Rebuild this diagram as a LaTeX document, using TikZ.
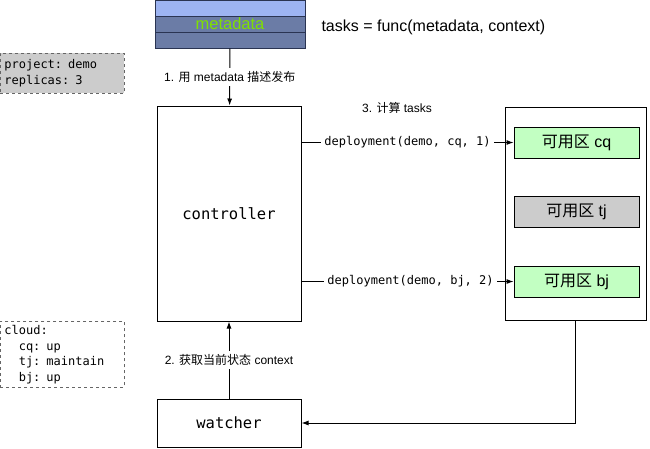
\documentclass[tikz,border=0pt]{standalone}
\usepackage{fontspec}
\setmainfont{Liberation Sans}
\setmonofont{DejaVu Sans Mono}
\newfontfamily\cjk{Noto Sans CJK SC}
\usetikzlibrary{positioning, arrows.meta, calc}
\definecolor{metaLight}{HTML}{9DB4F2}
\definecolor{metaSlate}{HTML}{6B7CA6}
\definecolor{metaEdge}{HTML}{2A3452}
\definecolor{metaText}{HTML}{7FE000}
\definecolor{zoneGreen}{HTML}{C2FFC2}
\definecolor{memoGray}{HTML}{CCCCCC}
\newcommand{\indnt}{\hspace*{1.2em}}

\begin{document}
\begin{tikzpicture}[x=1pt, y=-1pt,
    metaband/.style={draw=metaEdge, line width=1pt, rectangle, minimum width=150pt, minimum height=16pt, inner sep=0pt, fill=metaSlate},
    block/.style={draw=black, line width=1pt, rectangle, minimum width=144pt, inner sep=0pt, font=\ttfamily\fontsize{15.5}{18}\selectfont},
    zone/.style={draw=black, line width=0.8pt, rectangle, minimum width=125pt, minimum height=31pt, inner sep=0pt, fill=zoneGreen, font=\fontsize{16}{18}\selectfont},
    memo/.style={draw=black!60, dashed, line width=0.8pt, rectangle, text width=116pt, inner xsep=4pt, inner ysep=2pt, align=left, font=\ttfamily\fontsize{12}{15.5}\selectfont},
    flow/.style={draw=black, line width=1pt, -{Latex[length=7pt, width=5pt]}},
    tag/.style={fill=white, inner sep=3pt, font=\fontsize{12}{14}\selectfont},
    calltag/.style={fill=white, inner sep=3pt, font=\ttfamily\fontsize{12}{14}\selectfont},
]
\useasboundingbox (0,0) rectangle (650,448);
% metadata stack
\node[metaband, fill=metaLight] (metatop) at (230,8) {};
\node[metaband, text=metaText, font=\fontsize{16.5}{18}\selectfont] (metamid) at (230,24) {metadata};
\node[metaband] (metabot) at (230,40) {};
\node[anchor=west, font=\fontsize{16}{19}\selectfont] (formula) at (318,27) {tasks = func(metadata, context)};
% memos
\node[memo, fill=memoGray, anchor=north west, minimum height=40pt] (project) at (0,53) {project: demo\\replicas: 3};
\node[memo, anchor=north west, minimum height=66pt] (cloud) at (0,321) {cloud:\\\indnt cq: up\\\indnt tj: maintain\\\indnt bj: up};
% main blocks
\node[block, minimum height=215pt] (controller) at (229,213.5) {controller};
\node[block, minimum height=48pt] (watcher) at (229,423) {watcher};
\node[draw=black, line width=1pt, rectangle, minimum width=141pt, minimum height=213pt, inner sep=0pt] (zones) at (575.5,213.5) {};
\node[zone] (cq) at (576.5,142.5) {{\cjk 可用区} cq};
\node[zone, fill=memoGray] (tj) at (576.5,211.5) {{\cjk 可用区} tj};
\node[zone] (bj) at (576.5,281.5) {{\cjk 可用区} bj};
\node[tag] (compute) at (397,108) {3. {\cjk 计算} tasks};
% connectors
\draw[flow] (metabot) -- node[tag] {1. {\cjk 用} metadata {\cjk 描述发布}} (controller);
\draw[flow] (watcher) -- node[tag] {2. {\cjk 获取当前状态} context} (controller);
\draw[flow] (controller.east |- cq) -- node[calltag] {deployment(demo, cq, 1)} (cq);
\draw[flow] (controller.east |- bj) -- node[calltag, xshift=3pt] {deployment(demo, bj, 2)} (bj);
\draw[flow] (zones.south) |- (watcher.east);
\end{tikzpicture}
\end{document}
